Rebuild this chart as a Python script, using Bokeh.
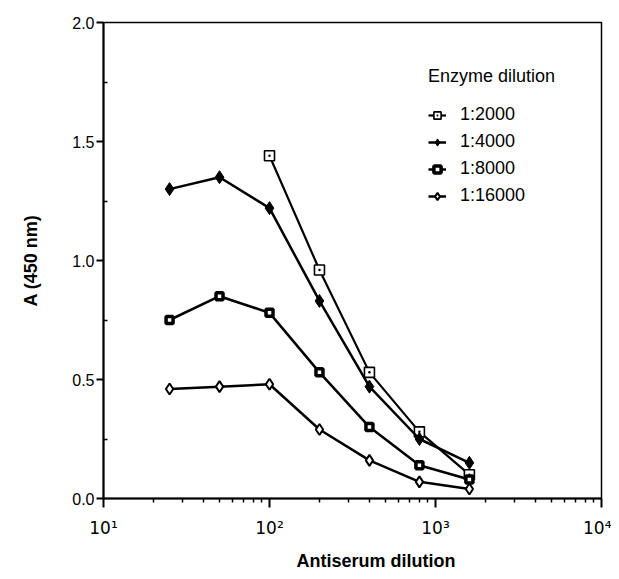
from bokeh.plotting import figure
from bokeh.models import FixedTicker, Legend, LegendItem, Title
from bokeh.embed import file_html
from bokeh.resources import INLINE

# ---- data ----
dilution = [25, 50, 100, 200, 400, 800, 1600]
dilution_2000 = [100, 200, 400, 800, 1600]
a_2000 = [1.44, 0.96, 0.53, 0.28, 0.10]
a_4000 = [1.30, 1.35, 1.22, 0.83, 0.47, 0.25, 0.15]
a_8000 = [0.75, 0.85, 0.78, 0.53, 0.30, 0.14, 0.08]
a_16000 = [0.46, 0.47, 0.48, 0.29, 0.16, 0.07, 0.04]

x_ticks = [10, 100, 1000, 10000]
x_tick_labels = ["10¹", "10²", "10³", "10⁴"]
y_ticks = [0.0, 0.5, 1.0, 1.5, 2.0]
y_tick_labels = ["0.0", "0.5", "1.0", "1.5", "2.0"]

FONT = "Liberation Sans"

p = figure(width=611, height=579, x_axis_type="log",
           x_range=(10, 10000), y_range=(0, 2.0),
           output_backend="svg", toolbar_location=None,
           min_border_left=103, min_border_right=10,
           min_border_top=22, min_border_bottom=81)
p.grid.visible = False
p.outline_line_color = "black"
p.outline_line_width = 1.5
p.background_fill_color = "white"
p.border_fill_color = "white"

minor_x = [m * 10 ** e for e in (1, 2, 3) for m in range(2, 10)]
p.xaxis.ticker = FixedTicker(ticks=x_ticks, minor_ticks=minor_x)
p.xaxis.major_label_overrides = dict(zip(x_ticks, x_tick_labels))
p.yaxis.ticker = FixedTicker(ticks=y_ticks, minor_ticks=[0.25, 0.75, 1.25, 1.75])
p.yaxis.major_label_overrides = dict(zip(y_ticks, y_tick_labels))

for ax in (p.xaxis, p.yaxis):
    ax.axis_line_width = 2
    ax.axis_line_color = "black"
    ax.major_tick_line_width = 2
    ax.minor_tick_line_width = 1.5
    ax.major_tick_line_color = "black"
    ax.minor_tick_line_color = "black"
    ax.major_label_text_font = FONT
    ax.major_label_text_color = "black"

p.xaxis.major_tick_out = 9
p.xaxis.major_tick_in = 0
p.xaxis.minor_tick_out = 4
p.xaxis.minor_tick_in = 0
p.xaxis.major_label_standoff = 10
p.xaxis.major_label_text_font = "DejaVu Sans"
p.xaxis.major_label_text_font_size = "17px"

p.yaxis.major_tick_out = 7
p.yaxis.major_tick_in = 0
p.yaxis.minor_tick_out = 0
p.yaxis.minor_tick_in = 4
p.yaxis.major_label_standoff = 2
p.yaxis.major_label_text_font_size = "16px"

p.yaxis.axis_label = "A (450 nm)"
p.yaxis.axis_label_text_font = FONT
p.yaxis.axis_label_text_font_style = "bold"
p.yaxis.axis_label_text_font_size = "18px"
p.yaxis.axis_label_standoff = 28
p.yaxis.axis_label_text_color = "black"

xtitle = Title(text="Antiserum dilution", align="left", offset=193,
               text_font=FONT, text_font_style="bold", text_font_size="18px",
               text_color="black", standoff=17)
p.add_layout(xtitle, "below")

LW = 2.5
l1 = p.line(dilution_2000, a_2000, line_color="black", line_width=2.2)
s1 = p.scatter(dilution_2000, a_2000, marker="square_dot", size=10,
               fill_color="white", line_color="black", line_width=1.6)
l2 = p.line(dilution, a_4000, line_color="black", line_width=LW)
s2 = p.scatter(dilution, a_4000, marker="diamond", size=13,
               fill_color="black", line_color="black", line_width=1)
l3 = p.line(dilution, a_8000, line_color="black", line_width=LW)
s3 = p.scatter(dilution, a_8000, marker="square", size=7,
               fill_color="white", line_color="black", line_width=3.5)
l4 = p.line(dilution, a_16000, line_color="black", line_width=LW)
s4 = p.scatter(dilution, a_16000, marker="diamond", size=11,
               fill_color="white", line_color="black", line_width=2)

legend = Legend(items=[
    LegendItem(label="1:2000", renderers=[l1, s1]),
    LegendItem(label="1:4000", renderers=[l2, s2]),
    LegendItem(label="1:8000", renderers=[l3, s3]),
    LegendItem(label="1:16000", renderers=[l4, s4]),
], location=(325, 292))
legend.title = "Enzyme dilution"
legend.title_text_font = FONT
legend.title_text_font_size = "18px"
legend.title_text_font_style = "normal"
legend.title_text_color = "black"
legend.title_standoff = 17
legend.label_text_font = FONT
legend.label_text_font_size = "18px"
legend.label_text_color = "black"
legend.glyph_width = 18
legend.glyph_height = 20
legend.spacing = 6
legend.label_standoff = 14
legend.padding = 0
legend.margin = 0
legend.border_line_color = None
legend.background_fill_alpha = 0
p.add_layout(legend, "center")

open("out.html", "w").write(file_html(p, INLINE))
